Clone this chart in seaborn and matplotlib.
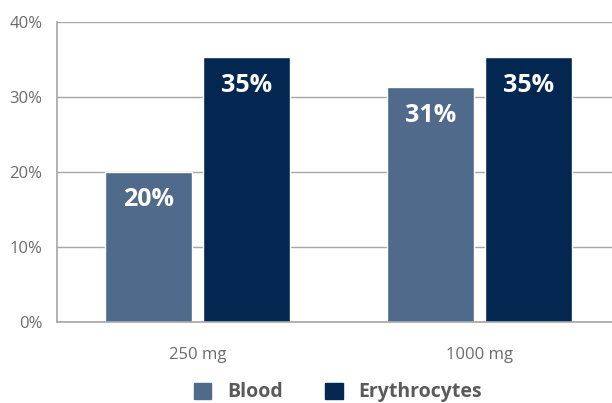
import numpy as np
import pandas as pd
import matplotlib.pyplot as plt
import seaborn as sns

# data
doses = ['250 mg', '1000 mg']
blood = [0.20, 0.313]
erythrocytes = [0.353, 0.353]
blood_labels = ['20%', '31%']
ery_labels = ['35%', '35%']

df = pd.DataFrame({
    'Dose': doses * 2,
    'Value': blood + erythrocytes,
    'Series': ['Blood'] * 2 + ['Erythrocytes'] * 2,
})

sns.set_style('white')
plt.rcParams['font.family'] = ['Open Sans', 'DejaVu Sans']

grey = '#a6a6a6'
text_grey = '#6b6b6b'
colors = {'Blood': '#4f6a8a', 'Erythrocytes': '#032751'}

fig = plt.figure(figsize=(6.12, 4.03), dpi=100)
ax = fig.add_axes([56.5 / 612, 81 / 403, 564 / 612, 300 / 403])

sns.barplot(data=df, x='Dose', y='Value', hue='Series', palette=colors,
            width=0.7, gap=0.12, ax=ax, legend=False, saturation=1)

ax.set_xlim(-0.5, 1.5)
ax.set_ylim(0, 0.40)
ax.set_yticks(np.arange(0, 0.41, 0.10))
ax.set_yticklabels([f'{int(round(t * 100))}%' for t in np.arange(0, 0.41, 0.10)])
ax.yaxis.grid(True, color=grey, linewidth=1)
ax.set_axisbelow(True)
for s in ['top', 'right']:
    ax.spines[s].set_visible(False)
for s in ['left', 'bottom']:
    ax.spines[s].set_color(grey)
    ax.spines[s].set_linewidth(1.2)
ax.tick_params(axis='y', length=0, labelsize=12, labelcolor=text_grey, pad=10)
ax.tick_params(axis='x', length=0, labelsize=12, labelcolor=text_grey, pad=18)
ax.set_xticks([0.5], minor=True)
ax.tick_params(axis='x', which='minor', direction='in', length=5, color=grey)
ax.set_xlabel('')
ax.set_ylabel('')

# value labels inside the bars
for cont, labs in zip(ax.containers, [blood_labels, ery_labels]):
    for bar, lab in zip(cont, labs):
        ax.annotate(lab, (bar.get_x() + bar.get_width() / 2, bar.get_height()),
                    xytext=(0, -28), textcoords='offset pixels',
                    ha='center', va='center', color='white',
                    fontsize=18, fontweight='bold')

handles = [plt.Rectangle((0, 0), 1, 1, color=colors[k]) for k in ['Blood', 'Erythrocytes']]
leg = fig.legend(handles, ['Blood', 'Erythrocytes'], loc='lower center',
                 bbox_to_anchor=(338 / 612, -0.042), ncol=2, frameon=False,
                 handlelength=0.9, handleheight=0.9, handletextpad=0.8,
                 columnspacing=2.2, prop={'size': 14, 'weight': 'bold'})
for t in leg.get_texts():
    t.set_color('#5a5a5a')

fig.savefig('out.png', dpi=100)
